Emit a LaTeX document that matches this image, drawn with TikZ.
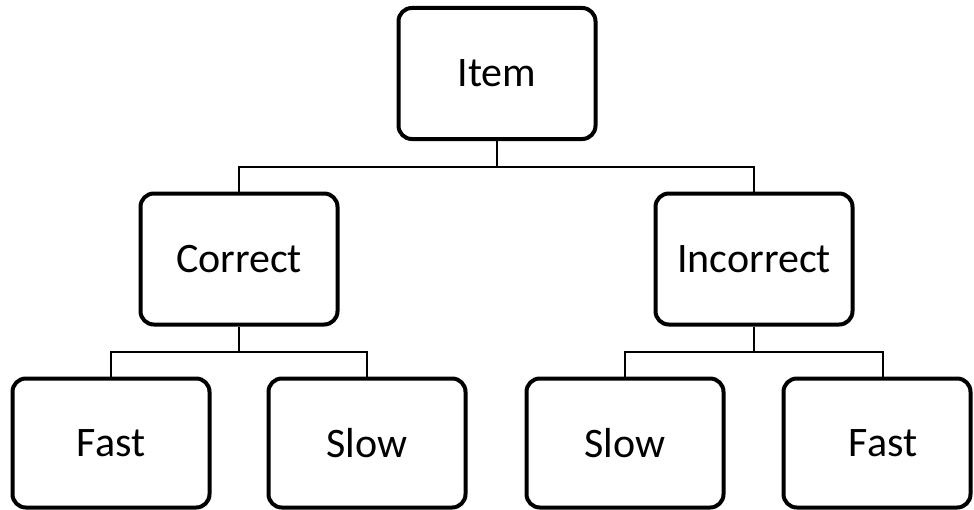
\documentclass[tikz,border=0pt]{standalone}
\usepackage{fontspec}
\setmainfont{Carlito}
\begin{document}
\begin{tikzpicture}[x=0.75pt,y=-0.75pt,
  box/.style={draw=black, line width=3pt, rounded corners=10pt, fill=white,
    inner sep=0pt, font=\fontsize{31.5}{36}\selectfont, text=black},
  upper/.style={box, minimum width=197*0.75pt, minimum height=131*0.75pt},
  leaf/.style={box, minimum width=197*0.75pt, minimum height=129*0.75pt},
  link/.style={draw=black, line width=1.6pt}]
\useasboundingbox (0,0) rectangle (974,510);

% boxes
\node[upper] (item) at (497,73.5) {Item};
\node[upper] (correct) at (239,259) {Correct};
\node[upper] (incorrect) at (754,259) {Incorrect};
\node[leaf] (fastA) at (111,443) {Fast};
\node[leaf] (slowA) at (367,443) {Slow};
\node[leaf] (slowB) at (625,443) {Slow};
\node[leaf, minimum width=187*0.75pt] (fastB) at (877,443) {\kern9pt Fast};

% bus points
\coordinate (busTop) at (497,167);
\coordinate (busLeft) at (239,352);
\coordinate (busRight) at (754,352);
\coordinate (fastBtop) at (883,378.5);

% connectors
\draw[link] (item.south) -- (busTop);
\draw[link] (correct.north) |- (busTop) -| (incorrect.north);
\draw[link] (correct.south) -- (busLeft);
\draw[link] (fastA.north) |- (busLeft) -| (slowA.north);
\draw[link] (incorrect.south) -- (busRight);
\draw[link] (slowB.north) |- (busRight) -| (fastBtop);
\end{tikzpicture}
\end{document}
